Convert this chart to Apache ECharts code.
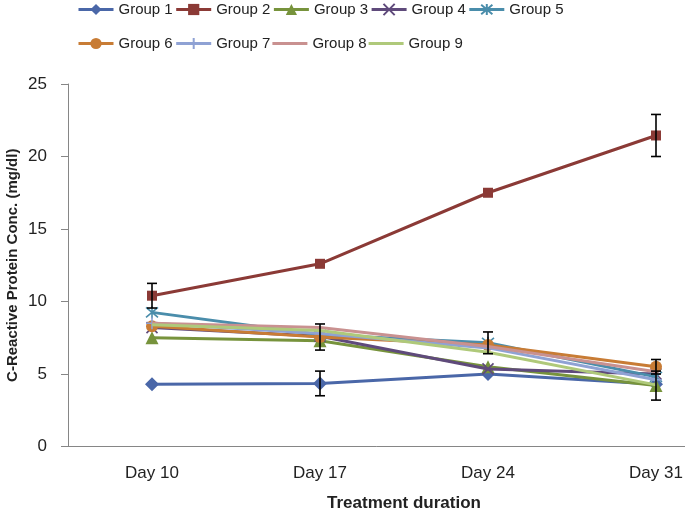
<!DOCTYPE html>
<html>
<head>
<meta charset="utf-8">
<script src="https://cdn.jsdelivr.net/npm/echarts@6/dist/echarts.min.js"></script>
<style>html,body{margin:0;padding:0;background:#fff;}#c{width:685px;height:510px;}</style>
</head>
<body>
<div id="c"></div>
<script>
var categories = ['Day 10', 'Day 17', 'Day 24', 'Day 31'];
var groupNames = ['Group 1','Group 2','Group 3','Group 4','Group 5','Group 6','Group 7','Group 8','Group 9'];
var group1 = [4.3, 4.35, 5.0, 4.3];
var group2 = [10.4, 12.6, 17.5, 21.45];
var group3 = [7.5, 7.3, 5.5, 4.2];
var group4 = [8.2, 7.6, 5.35, 5.0];
var group5 = [9.25, 7.7, 7.15, 4.8];
var group6 = [8.3, 7.55, 7.0, 5.5];
var group7 = [8.5, 7.8, 6.8, 4.6];
var group8 = [8.5, 8.2, 6.9, 5.15];
var group9 = [8.4, 8.0, 6.5, 4.25];
var err1 = [0, 0.85, 0, 0];
var err2 = [0.85, 0, 0, 1.45];
var err6 = [0, 0.9, 0, 0.5];
var err5 = [0, 0, 0.75, 0];
var err3 = [0, 0, 0, 1.0];
var yTicks = [0, 5, 10, 15, 20, 25];

var values = [group1, group2, group3, group4, group5, group6, group7, group8, group9];
var colors = ['#4A67A8','#8B3A36','#77933C','#5F4A7B','#4A8DAB','#C87C35','#8FA2D4','#C99190','#AFC97A'];
var symbols = ['diamond','rect','triangle',
  'path://M0,0L10,10M10,0L0,10',
  'path://M0,0L10,10M10,0L0,10M5,-1L5,11',
  'circle',
  'path://M5,0L5,10M0,5L10,5',
  'none','none'];
var sizes = [14, 10, 13, 11, 12, 12, 12, 0, 0];

var series = [];
for (var i = 0; i < 9; i++) {
  series.push({
    name: groupNames[i], type: 'line', data: values[i],
    symbol: symbols[i], symbolSize: sizes[i], showSymbol: symbols[i] !== 'none',
    lineStyle: {color: colors[i], width: 3},
    itemStyle: {color: colors[i], borderColor: colors[i], borderWidth: (i===3||i===4||i===6) ? 1.6 : 0},
    z: 2 + i
  });
}
var errs = [[err1, group1], [err2, group2], [err6, group6], [err5, group5], [err3, group3]];
var errData = [];
errs.forEach(function (p) {
  for (var k = 0; k < categories.length; k++) {
    if (p[0][k] > 0) errData.push([k, p[1][k], p[0][k]]);
  }
});
series.push({
  type: 'custom', name: 'err', data: errData, z: 20, silent: true,
  renderItem: function (params, api) {
    var x = api.value(0), v = api.value(1), e = api.value(2);
    var top = api.coord([x, v + e]);
    var bot = api.coord([x, v - e]);
    var w = 5;
    var st = {stroke: '#000', lineWidth: 1.6};
    return {type: 'group', children: [
      {type: 'line', shape: {x1: top[0], y1: top[1], x2: bot[0], y2: bot[1]}, style: st},
      {type: 'line', shape: {x1: top[0]-w, y1: top[1], x2: top[0]+w, y2: top[1]}, style: st},
      {type: 'line', shape: {x1: bot[0]-w, y1: bot[1], x2: bot[0]+w, y2: bot[1]}, style: st}
    ]};
  }
});

var font = 'Liberation Sans';
var lineIcon = 'path://M0,0L100,0L100,9L0,9Z';
function legendData(names) {
  return names.map(function (n) {
    return (n === 'Group 8' || n === 'Group 9') ? {name: n, icon: lineIcon} : n;
  });
}
var legendBase = {
  orient: 'horizontal', itemWidth: 35, itemHeight: 14, itemGap: 2,
  lineStyle: {width: 3},
  textStyle: {fontFamily: font, fontSize: 15, color: '#222'}
};
var chart = echarts.init(document.getElementById('c'));
chart.setOption({
  animation: false,
  color: colors,
  legend: [
    Object.assign({}, legendBase, {left: 72, top: -3, data: legendData(groupNames.slice(0, 5))}),
    Object.assign({}, legendBase, {left: 72, top: 31, data: legendData(groupNames.slice(5))})
  ],
  grid: {left: 68, top: 84, width: 672, bottom: 63.5, outerBoundsMode: 'none', containLabel: false},
  xAxis: {
    type: 'category', data: categories, boundaryGap: true,
    axisLine: {lineStyle: {color: '#868686', width: 1}},
    axisTick: {show: false},
    axisLabel: {fontFamily: font, fontSize: 17, color: '#222', margin: 18},
    name: 'Treatment duration', nameLocation: 'middle', nameGap: 48,
    nameTextStyle: {fontFamily: font, fontSize: 17, fontWeight: 'bold', color: '#222'}
  },
  yAxis: {
    type: 'value', min: yTicks[0], max: yTicks[yTicks.length-1], interval: 5,
    axisLine: {show: true, lineStyle: {color: '#868686', width: 1}},
    axisTick: {show: true, length: 7, lineStyle: {color: '#868686'}},
    splitLine: {show: false},
    axisLabel: {fontFamily: font, fontSize: 17, color: '#222', margin: 21},
    name: 'C-Reactive Protein Conc. (mg/dl)', nameLocation: 'middle', nameGap: 48,
    nameMoveOverlap: false,
    nameTextStyle: {fontFamily: font, fontSize: 15, fontWeight: 'bold', color: '#222'}
  },
  series: series
});
</script>
</body>
</html>
